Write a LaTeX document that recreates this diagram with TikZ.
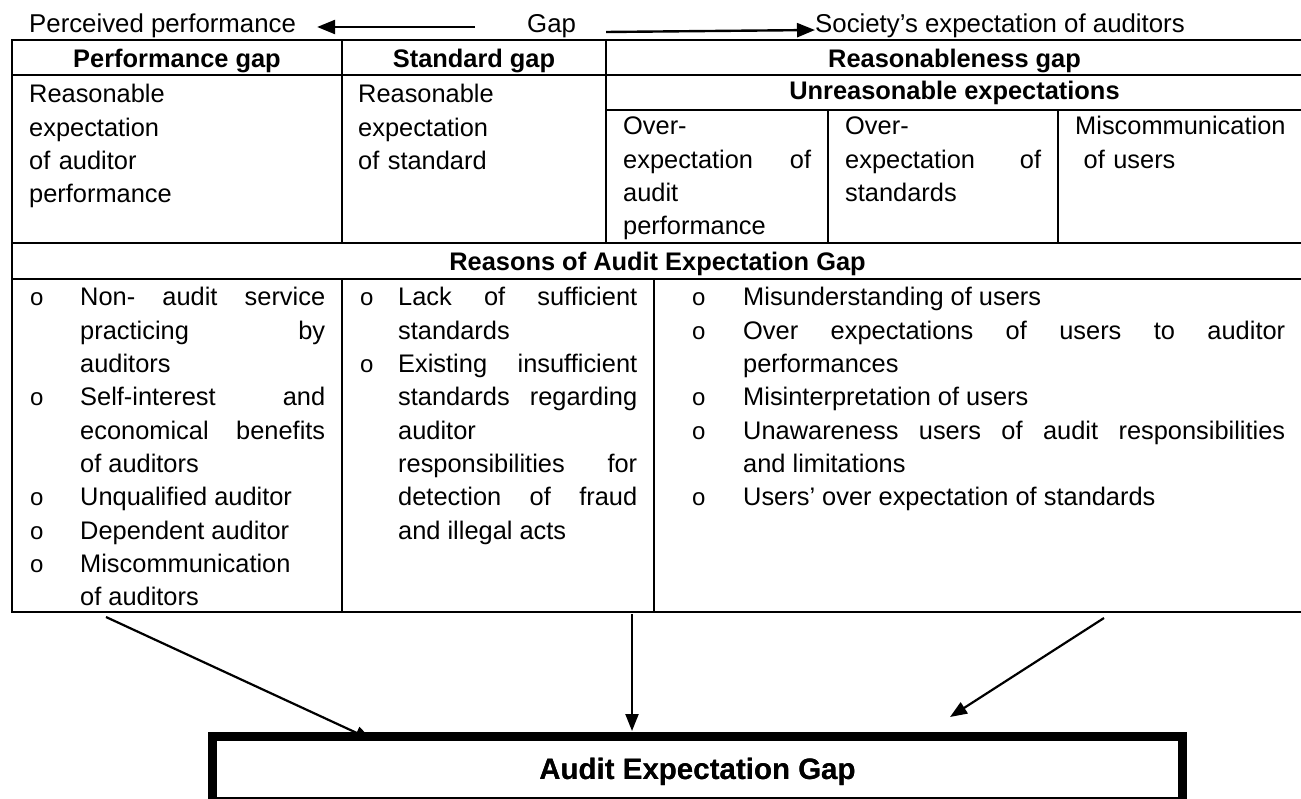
\documentclass[tikz,border=0pt]{standalone}
\usepackage{fontspec}
\setmainfont{Liberation Sans}
\usetikzlibrary{arrows.meta}

\newcommand{\bodyfont}{\fontsize{25.4}{33.3}\selectfont}
\newcommand{\cellfont}{\fontsize{25.4}{33.3}\selectfont\setlength{\parskip}{0pt}\hyphenpenalty=10000\relax\exhyphenpenalty=10000\relax}
\newcommand{\topfont}{\fontsize{25.8}{30}\selectfont}
\newcommand{\bul}[1]{\noindent\llap{\makebox[#1][l]{\fontsize{24}{33.3}\selectfont o}}}

\begin{document}
\begin{tikzpicture}[x=1pt,y=-1pt,
    grid/.style={line width=2.6pt},
    lbl/.style={anchor=base west, inner sep=0pt, font=\topfont},
    hd/.style={anchor=base, inner sep=0pt, font=\bodyfont\bfseries},
    cell/.style={anchor=base west, inner sep=0pt, align=justify, font=\cellfont},
    toparr/.style={-{Triangle[length=18pt,width=14pt]}, line width=2.4pt},
    downarr/.style={-{Triangle[length=17pt,width=13pt]}, line width=2.2pt},
    gapbox/.style={draw, line width=9pt, minimum width=970pt, minimum height=65pt,
      inner sep=0pt, text depth=0pt, font=\fontsize{29.5}{34}\selectfont\bfseries}]
  \useasboundingbox (0,0) rectangle (1301,799);

  \node[lbl] (perc) at (29,33) {Perceived performance};
  \node[lbl] (gap) at (527,33) {Gap};
  \node[lbl] (soc) at (815,33) {Society's expectation of auditors};
  \draw[toparr] ([xshift=-52pt,yshift=6pt]gap.base west) -- ([xshift=21pt,yshift=6pt]perc.base east);
  \draw[toparr] ([xshift=30pt,yshift=1pt]gap.base east) -- ([yshift=3pt]soc.base west);

  \draw[grid] (12,40) rectangle (1303,612);
  \foreach \y in {75,243,279}{
      \draw[grid] (12,\y) -- (1303,\y);
  }
  \draw[grid] (606,110) -- (1303,110);
  \foreach \x/\ya/\yb in {342/40/243, 606/40/243, 828/110/243, 1058/110/243, 342/279/612, 654/279/612}{
      \draw[grid] (\x,\ya) -- (\x,\yb);
  }

  \node[hd] (perfgap) at (177,68) {Performance gap};
  \node[hd] (stdgap) at (474,68) {Standard gap};
  \node[hd] (reasgap) at (954.5,68) {Reasonableness gap};
  \node[hd] (unreas) at (954.5,100) {Unreasonable expectations};
  \node[hd] (reasons) at (657.5,271) {Reasons of Audit Expectation Gap};

  \node[cell, align=left, text width=300pt] (perfexp) at (29,103) {Reasonable\\ expectation\\ of auditor\\ performance};
  \node[cell, align=left, text width=240pt] (stdexp) at (358,103) {Reasonable\\ expectation\\ of standard};
  \node[cell, text width=188pt] (overaud) at (623,135) {Over-\newline expectation of\linebreak audit\newline performance};
  \node[cell, text width=196pt] (overstd) at (845,135) {Over-\newline expectation of\linebreak standards};
  \node[cell, align=left, text width=220pt] (miscom) at (1075,135) {Miscommunication\\ \ of users};

  \node[cell, text width=245pt] (audreas) at (80,306) {\bul{50pt}Non- audit service\linebreak practicing by\linebreak auditors
    \par\bul{50pt}Self-interest and\linebreak economical benefits\linebreak of auditors
    \par\bul{50pt}Unqualified auditor
    \par\bul{50pt}Dependent auditor
    \par\bul{50pt}Miscommunication\newline of auditors};
  \node[cell, text width=239pt] (stdreas) at (398,306) {\bul{38pt}Lack of sufficient\linebreak standards
    \par\bul{38pt}Existing insufficient\linebreak standards regarding\linebreak auditor\newline responsibilities for\linebreak detection of fraud\linebreak and illegal acts};
  \node[cell, text width=542pt] (usrreas) at (743,306) {\bul{51pt}Misunderstanding of users
    \par\bul{51pt}Over expectations of users to auditor\linebreak performances
    \par\bul{51pt}Misinterpretation of users
    \par\bul{51pt}Unawareness users of audit responsibilities\linebreak and limitations
    \par\bul{51pt}Users' over expectation of standards};

  \node[gapbox] (aeg) at (697.5,769) {Audit Expectation Gap};
  \coordinate (from1) at (106,617);
  \coordinate (from2) at (632,614);
  \coordinate (from3) at (1104,618);
  \draw[downarr] (from1) -- ([shift={(164pt,-8pt)}]aeg.north west);
  \draw[downarr] (from2) -- ([yshift=1pt]aeg.north -| from2);
  \draw[downarr] (from3) -- ([shift={(742pt,15pt)}]aeg.north west);
  \node[gapbox] at (aeg) {Audit Expectation Gap};
\end{tikzpicture}
\end{document}
